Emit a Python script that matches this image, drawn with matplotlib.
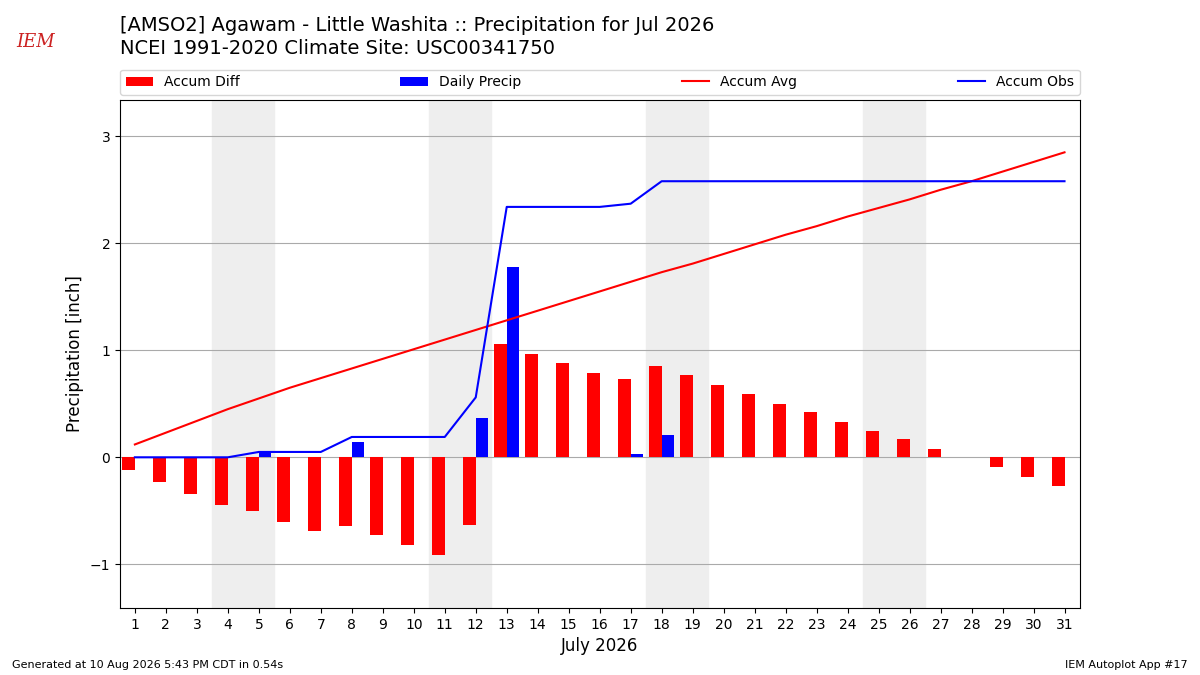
import numpy as np
from matplotlib import pyplot as plt

days = np.arange(1, 32)
accum_avg = [0.12, 0.23, 0.34, 0.45, 0.55, 0.65, 0.74, 0.83, 0.92, 1.01, 1.10,
             1.19, 1.28, 1.37, 1.46, 1.55, 1.64, 1.73, 1.81, 1.90, 1.99, 2.08,
             2.16, 2.25, 2.33, 2.41, 2.50, 2.58, 2.67, 2.76, 2.85]
daily = [0, 0, 0, 0, 0.05, 0, 0, 0.14, 0, 0, 0, 0.37, 1.78, 0, 0, 0, 0.03, 0.21,
         0, 0, 0, 0, 0, 0, 0, 0, 0, 0, 0, 0, 0]
accum_obs = np.cumsum(daily)
accum_diff = accum_obs - np.array(accum_avg)
weekends = [4, 5, 11, 12, 18, 19, 25, 26]

fig = plt.figure(figsize=(12, 6.75), dpi=100)
ax = fig.add_axes([0.1, 0.099, 0.8, 0.753])

for d in weekends:
    ax.axvspan(d - 0.5, d + 0.5, color='#eeeeee', zorder=0)

ax.bar(days - 0.2, accum_diff, width=0.4, color='r', label='Accum Diff', zorder=2)
ax.bar(days + 0.2, daily, width=0.4, color='b', label='Daily Precip', zorder=2)
ax.plot(days, accum_avg, color='r', label='Accum Avg', zorder=3)
ax.plot(days, accum_obs, color='b', label='Accum Obs', zorder=3)

ax.set_xlim(0.52, 31.5)
ax.set_ylim(-1.41, 3.34)
ax.set_xticks(days)
ax.set_yticks([-1, 0, 1, 2, 3])
ax.set_yticklabels(['\u22121', '0', '1', '2', '3'])
ax.grid(axis='y', color='#aaaaaa', zorder=1)
ax.set_axisbelow(True)
ax.set_xlabel('July 2026', fontsize=12)
ax.set_ylabel('Precipitation [inch]', fontsize=12)

h, l = ax.get_legend_handles_labels()
order = [2, 3, 0, 1]
ax.legend([h[i] for i in order], [l[i] for i in order], ncol=4, mode='expand',
          loc='lower left', bbox_to_anchor=(0, 1.01, 1, 0.05), borderaxespad=0)

fig.text(0.1, 0.948, '[AMSO2] Agawam - Little Washita :: Precipitation for Jul 2026',
         fontsize=14, va='bottom')
fig.text(0.1, 0.914, 'NCEI 1991-2020 Climate Site: USC00341750', fontsize=14, va='bottom')
fig.text(0.03, 0.93, 'IEM', color='#cc2222', fontsize=13, style='italic',
         family='DejaVu Serif', ha='center')
fig.text(0.01, 0.01, 'Generated at 10 Aug 2026 5:43 PM CDT in 0.54s', fontsize=8)
fig.text(0.99, 0.01, 'IEM Autoplot App #17', fontsize=8, ha='right')

fig.savefig('out.png')
